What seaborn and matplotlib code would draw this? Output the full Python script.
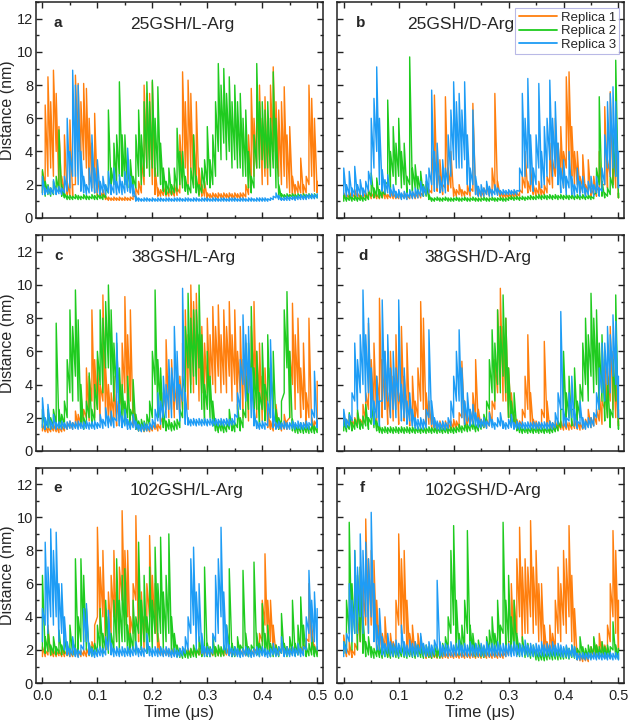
import numpy as np
import pandas as pd
import matplotlib
matplotlib.use("Agg")
import matplotlib.pyplot as plt
from matplotlib.ticker import MultipleLocator
import seaborn as sns

# time axis: 101 columns over 0-0.5 us; each trace is stored as the
# low / high envelope of the (very dense) signal inside each column
time = np.linspace(0, 0.5, 101)
replicas = ["Replica 1", "Replica 2", "Replica 3"]
colors = ["#ff7f0e", "#1fcb1f", "#1e9cf5"]

# ---- 25GSH/L-Arg ----
a_r1_lo = [1.5, 2.0, 2.5, 3.0, 2.5, 4.0, 1.6, 1.4, 1.5, 1.4,
           1.3, 1.2, 2.0, 4.0, 2.5, 3.5, 3.0, 2.0, 1.8, 1.5,
           1.3, 1.3, 1.2, 1.1, 1.05, 1.05, 1.05, 1.05, 1.05, 1.05,
           1.05, 1.05, 1.05, 1.1, 1.3, 1.4, 1.5, 2.0, 3.0, 3.5,
           2.0, 1.4, 1.3, 1.3, 1.35, 1.3, 1.3, 1.35, 1.3, 1.35,
           1.5, 2.5, 3.0, 2.0, 3.0, 2.0, 1.8, 1.4, 1.3, 1.3,
           1.15, 1.2, 1.15, 1.2, 1.15, 1.2, 1.15, 1.2, 1.15, 1.2,
           1.15, 1.2, 1.15, 1.2, 1.25, 1.4, 2.0, 2.5, 3.0, 3.5,
           2.0, 2.5, 2.0, 3.0, 4.0, 3.0, 2.5, 2.0, 2.5, 1.8,
           1.5, 1.4, 1.4, 1.5, 1.5, 1.4, 1.5, 2.0, 2.5, 1.6,
           1.5]
a_r1_hi = [2.8, 6.8, 8.5, 7.0, 8.9, 7.5, 5.5, 2.5, 5.0, 2.2,
           5.9, 2.0, 8.6, 8.1, 7.0, 8.1, 7.8, 6.0, 4.5, 6.3,
           2.5, 1.6, 1.7, 1.3, 1.25, 1.2, 1.25, 1.2, 1.25, 1.2,
           1.25, 1.2, 1.25, 1.3, 1.8, 2.2, 3.5, 8.0, 7.5, 7.5,
           8.2, 3.0, 1.8, 1.7, 1.9, 1.7, 1.8, 1.7, 2.0, 1.8,
           5.0, 8.8, 7.0, 8.3, 7.5, 5.0, 7.0, 3.0, 2.0, 2.2,
           1.5, 1.45, 1.5, 1.45, 1.5, 1.45, 1.5, 1.45, 1.5, 1.45,
           1.5, 1.45, 1.5, 1.5, 2.0, 5.0, 7.8, 6.0, 7.4, 8.0,
           6.0, 7.3, 5.0, 8.0, 9.1, 7.0, 6.5, 7.0, 7.9, 5.0,
           5.5, 2.5, 2.0, 2.2, 3.6, 2.0, 2.5, 8.0, 7.2, 6.0,
           2.2]
a_r2_lo = [1.5, 1.3, 1.4, 1.3, 1.4, 1.5, 1.6, 1.3, 1.2, 1.1,
           1.1, 1.1, 1.15, 1.1, 1.1, 1.15, 1.1, 1.1, 1.15, 1.1,
           1.1, 1.15, 1.1, 1.2, 1.5, 1.8, 2.0, 2.0, 2.5, 2.5,
           2.0, 1.8, 1.8, 1.5, 1.8, 2.5, 2.0, 2.5, 3.0, 2.5,
           3.0, 2.5, 2.5, 2.0, 1.6, 1.4, 1.5, 1.4, 1.5, 1.6,
           2.0, 1.8, 1.6, 1.4, 1.5, 1.8, 1.5, 1.3, 1.5, 1.8,
           2.0, 1.8, 2.0, 2.5, 4.0, 3.5, 4.5, 3.5, 4.0, 3.0,
           3.5, 3.0, 3.0, 2.5, 2.5, 1.8, 1.5, 1.8, 3.0, 3.0,
           3.5, 3.0, 3.0, 2.5, 3.0, 1.8, 1.3, 1.2, 1.2, 1.2,
           1.2, 1.25, 1.2, 1.2, 1.25, 1.2, 1.2, 1.25, 1.2, 1.2,
           1.2]
a_r2_hi = [2.9, 2.2, 2.0, 1.8, 2.2, 2.5, 5.3, 2.0, 1.5, 1.35,
           1.35, 1.3, 1.4, 1.35, 1.3, 1.4, 1.35, 1.3, 1.4, 1.35,
           1.4, 1.35, 1.4, 1.8, 6.5, 3.0, 4.5, 5.0, 8.2, 5.0,
           5.0, 3.0, 3.5, 2.5, 5.0, 6.5, 5.0, 7.0, 8.2, 7.0,
           8.3, 6.0, 7.9, 4.5, 3.0, 2.2, 3.0, 2.0, 3.0, 5.4,
           4.0, 4.0, 2.5, 2.0, 3.0, 5.0, 2.5, 2.0, 3.0, 3.5,
           5.5, 3.5, 5.0, 7.0, 9.3, 8.0, 9.0, 7.5, 8.5, 7.0,
           8.0, 7.0, 7.5, 6.0, 6.5, 4.0, 2.5, 5.0, 9.3, 7.0,
           7.0, 6.5, 7.0, 6.0, 8.8, 6.0, 2.0, 1.45, 1.4, 1.45,
           1.4, 1.45, 1.4, 1.45, 1.4, 1.45, 1.4, 1.45, 1.4, 1.45,
           1.4]
a_r3_lo = [1.4, 1.4, 1.45, 1.4, 1.45, 1.4, 1.45, 1.4, 1.5, 1.6,
           1.8, 2.5, 2.5, 2.0, 1.6, 1.5, 1.4, 1.5, 1.6, 1.5,
           1.5, 1.4, 1.5, 1.4, 1.5, 1.4, 1.5, 1.4, 1.5, 1.4,
           1.5, 1.6, 1.5, 1.3, 1.0, 1.0, 1.0, 1.0, 1.0, 1.0,
           1.0, 1.0, 1.0, 1.0, 1.0, 1.0, 1.0, 1.0, 1.0, 1.0,
           1.0, 1.0, 1.0, 1.0, 1.0, 1.0, 1.0, 1.0, 1.0, 1.0,
           1.0, 1.0, 1.0, 1.0, 1.0, 1.0, 1.0, 1.0, 1.0, 1.0,
           1.0, 1.0, 1.0, 1.0, 1.0, 1.0, 1.0, 1.0, 1.0, 1.0,
           1.0, 1.0, 1.0, 1.05, 1.1, 1.2, 1.1, 1.05, 1.05, 1.05,
           1.05, 1.1, 1.05, 1.1, 1.1, 1.1, 1.1, 1.15, 1.15, 1.15,
           1.2]
a_r3_hi = [2.5, 1.8, 1.9, 1.8, 2.3, 1.8, 1.9, 1.8, 2.5, 6.0,
           4.0, 8.9, 8.0, 8.0, 4.0, 2.5, 2.0, 3.0, 5.0, 3.0,
           3.5, 2.2, 2.5, 2.0, 2.8, 2.0, 3.0, 2.2, 2.6, 2.2,
           2.8, 4.2, 2.5, 2.0, 1.3, 1.2, 1.15, 1.2, 1.2, 1.15,
           1.2, 1.15, 1.2, 1.2, 1.15, 1.2, 1.2, 1.15, 1.2, 1.2,
           1.2, 1.15, 1.2, 1.2, 1.15, 1.2, 1.2, 1.15, 1.2, 1.2,
           1.2, 1.15, 1.2, 1.2, 1.15, 1.2, 1.2, 1.15, 1.2, 1.2,
           1.2, 1.15, 1.2, 1.2, 1.15, 1.2, 1.2, 1.15, 1.2, 1.2,
           1.2, 1.2, 1.15, 1.2, 1.3, 1.5, 1.35, 1.2, 1.25, 1.3,
           1.25, 1.3, 1.3, 1.35, 1.4, 1.35, 1.4, 1.4, 1.45, 1.4,
           1.45]

# ---- 25GSH/D-Arg ----
b_r1_lo = [1.15, 1.15, 1.2, 1.15, 1.2, 1.15, 1.15, 1.2, 1.15, 1.2,
           1.15, 1.2, 1.15, 1.15, 1.2, 1.15, 1.15, 1.2, 1.15, 1.15,
           1.15, 1.15, 1.2, 1.15, 1.15, 1.2, 1.15, 1.2, 1.2, 1.3,
           1.4, 1.3, 1.5, 2.0, 1.6, 1.8, 1.4, 1.8, 1.6, 1.8,
           1.3, 1.3, 1.4, 1.3, 1.3, 1.4, 1.3, 1.6, 1.4, 1.3,
           1.25, 1.3, 1.4, 1.3, 1.4, 1.6, 1.4, 1.25, 1.2, 1.2,
           1.2, 1.2, 1.25, 1.2, 1.3, 1.5, 1.8, 1.5, 1.6, 1.4,
           1.3, 1.4, 1.3, 1.4, 1.5, 2.0, 1.8, 2.5, 2.0, 2.5,
           1.8, 3.0, 3.5, 2.5, 2.0, 2.0, 1.5, 1.8, 1.4, 1.6,
           1.3, 1.4, 1.3, 1.6, 1.4, 2.0, 1.8, 2.5, 2.0, 1.8,
           1.2]
b_r1_hi = [1.5, 1.4, 1.6, 1.5, 1.7, 1.5, 1.4, 1.6, 1.5, 1.7,
           1.5, 1.6, 1.4, 1.5, 1.7, 1.5, 1.4, 1.6, 1.5, 1.4,
           1.5, 1.4, 1.5, 1.4, 1.5, 1.6, 1.5, 1.7, 1.5, 1.8,
           2.0, 1.7, 4.0, 7.4, 3.0, 3.5, 2.0, 7.3, 3.0, 4.0,
           1.8, 1.7, 2.0, 1.7, 1.6, 2.0, 1.8, 6.9, 2.2, 1.7,
           1.6, 1.8, 2.0, 1.7, 3.0, 7.5, 2.2, 1.6, 1.5, 1.5,
           1.5, 1.5, 1.6, 1.5, 1.7, 2.5, 4.0, 2.2, 3.0, 2.0,
           1.8, 2.2, 1.7, 2.0, 2.5, 4.5, 3.5, 6.0, 4.5, 5.5,
           4.0, 8.5, 8.8, 5.5, 4.0, 4.0, 2.5, 3.8, 2.0, 3.5,
           1.8, 2.5, 1.8, 4.0, 2.0, 6.7, 3.5, 7.6, 4.5, 5.0,
           1.5]
b_r2_lo = [1.0, 1.0, 1.05, 1.0, 1.05, 1.0, 1.05, 1.0, 1.05, 1.1,
           1.3, 1.2, 1.3, 1.2, 1.2, 1.4, 2.0, 1.8, 2.5, 2.0,
           2.5, 1.8, 2.0, 1.5, 2.0, 1.6, 1.8, 1.5, 1.6, 1.3,
           1.3, 1.1, 1.0, 1.0, 1.05, 1.0, 1.0, 1.05, 1.0, 1.0,
           1.0, 1.05, 1.0, 1.0, 1.05, 1.0, 1.0, 1.05, 1.0, 1.0,
           1.0, 1.05, 1.0, 1.0, 1.05, 1.0, 1.0, 1.05, 1.0, 1.0,
           1.05, 1.1, 1.05, 1.1, 1.05, 1.1, 1.05, 1.1, 1.1, 1.1,
           1.1, 1.15, 1.1, 1.15, 1.1, 1.15, 1.1, 1.15, 1.1, 1.15,
           1.1, 1.15, 1.1, 1.15, 1.1, 1.15, 1.1, 1.15, 1.1, 1.15,
           1.1, 1.15, 1.5, 2.0, 1.3, 1.2, 1.3, 1.4, 1.8, 2.5,
           1.2]
b_r2_hi = [1.4, 1.25, 1.4, 1.25, 1.35, 1.25, 1.35, 1.25, 1.4, 1.6,
           2.7, 1.8, 2.4, 1.7, 1.6, 2.2, 7.1, 4.0, 5.5, 4.5,
           6.0, 4.0, 4.5, 2.5, 9.7, 3.0, 3.2, 2.5, 2.8, 2.0,
           2.2, 1.4, 1.2, 1.2, 1.25, 1.2, 1.2, 1.25, 1.2, 1.2,
           1.2, 1.25, 1.2, 1.2, 1.25, 1.2, 1.2, 1.25, 1.2, 1.2,
           1.2, 1.25, 1.2, 1.2, 1.25, 1.2, 1.2, 1.25, 1.2, 1.2,
           1.25, 1.3, 1.25, 1.3, 1.25, 1.3, 1.25, 1.3, 1.35, 1.3,
           1.35, 1.4, 1.35, 1.4, 1.35, 1.4, 1.35, 1.4, 1.35, 1.4,
           1.35, 1.4, 1.35, 1.4, 1.35, 1.4, 1.35, 1.4, 1.35, 1.4,
           1.3, 1.4, 3.0, 7.3, 2.2, 1.5, 1.8, 2.5, 5.0, 9.5,
           1.5]
b_r3_lo = [1.4, 1.3, 1.4, 1.3, 1.4, 1.3, 1.4, 1.3, 1.4, 1.6,
           2.0, 3.0, 4.0, 2.0, 1.6, 1.5, 1.5, 1.3, 1.3, 1.2,
           1.2, 1.1, 1.15, 1.1, 1.2, 1.15, 1.2, 1.2, 1.3, 1.3,
           1.4, 1.5, 2.0, 1.6, 1.8, 1.5, 1.6, 1.5, 2.0, 2.5,
           3.5, 3.0, 3.0, 3.0, 3.5, 2.0, 1.6, 2.0, 1.4, 1.3,
           1.3, 1.3, 1.4, 1.3, 1.3, 1.4, 1.35, 1.4, 1.4, 1.4,
           1.4, 1.4, 1.4, 1.4, 1.6, 2.5, 2.5, 3.0, 2.0, 1.6,
           2.0, 3.0, 1.8, 2.0, 2.5, 3.5, 2.5, 3.0, 2.0, 1.5,
           1.8, 1.4, 1.8, 1.4, 1.3, 1.5, 1.3, 1.5, 1.3, 1.4,
           1.5, 1.3, 1.5, 1.3, 1.6, 2.0, 3.0, 2.5, 3.0, 2.5,
           1.8]
b_r3_hi = [3.0, 2.0, 2.8, 1.8, 3.1, 2.0, 2.3, 1.8, 2.2, 2.8,
           6.0, 7.2, 9.1, 6.0, 2.9, 2.3, 2.6, 1.8, 2.0, 1.6,
           1.7, 1.5, 1.6, 1.5, 1.7, 1.6, 1.8, 1.7, 2.2, 1.9,
           2.6, 3.0, 7.7, 4.0, 4.5, 2.5, 3.5, 3.0, 5.0, 6.5,
           8.2, 7.0, 7.5, 6.5, 8.2, 5.0, 3.0, 6.5, 2.5, 1.9,
           2.0, 1.8, 2.2, 1.9, 1.7, 2.0, 1.8, 1.65, 1.7, 1.65,
           1.7, 1.65, 1.7, 1.65, 3.0, 7.5, 6.0, 8.4, 5.0, 3.0,
           5.0, 8.1, 4.0, 5.5, 6.0, 8.3, 6.0, 7.0, 4.5, 3.0,
           3.5, 2.5, 4.0, 2.5, 2.0, 3.0, 2.2, 2.5, 1.8, 2.2,
           2.5, 2.0, 2.5, 1.8, 3.0, 5.0, 7.0, 7.5, 7.9, 7.0,
           4.0]

# ---- 38GSH/L-Arg ----
c_r1_lo = [1.2, 1.15, 1.1, 1.15, 1.2, 1.15, 1.1, 1.15, 1.2, 1.3,
           1.4, 1.3, 1.5, 1.4, 1.6, 1.5, 2.0, 1.8, 3.0, 2.0,
           2.5, 1.8, 3.0, 2.0, 2.0, 1.6, 2.0, 1.5, 1.8, 2.5,
           3.5, 2.5, 3.0, 1.5, 1.3, 1.2, 1.2, 1.15, 1.2, 1.15,
           1.2, 1.3, 1.2, 1.3, 1.6, 2.5, 2.0, 2.5, 2.0, 2.5,
           2.0, 2.5, 3.5, 2.5, 4.0, 3.5, 4.5, 3.0, 3.5, 2.5,
           3.5, 3.0, 4.0, 3.5, 4.5, 3.5, 4.0, 3.5, 4.5, 3.0,
           4.0, 2.5, 3.5, 2.0, 3.0, 1.8, 3.0, 4.0, 2.0, 3.0,
           1.8, 2.0, 1.4, 1.3, 1.2, 1.4, 1.3, 1.2, 1.3, 1.3,
           2.0, 4.0, 2.5, 3.5, 2.0, 2.5, 1.5, 2.0, 1.3, 1.2,
           1.5]
c_r1_hi = [1.6, 1.5, 1.45, 1.5, 1.6, 1.5, 1.45, 1.5, 1.6, 1.7,
           1.8, 1.7, 2.4, 2.2, 3.5, 2.5, 5.0, 4.5, 8.5, 5.5,
           5.5, 4.0, 9.4, 5.0, 4.0, 3.5, 4.5, 3.0, 3.5, 6.5,
           9.3, 7.0, 8.5, 3.0, 1.9, 1.7, 1.6, 1.5, 1.6, 1.5,
           1.6, 1.7, 1.6, 2.0, 3.5, 6.7, 4.5, 5.5, 4.0, 5.0,
           4.5, 6.5, 8.5, 7.0, 10.0, 9.0, 9.5, 7.0, 7.5, 6.5,
           8.0, 7.0, 8.7, 7.5, 8.8, 7.0, 8.5, 7.5, 9.0, 7.0,
           8.5, 6.0, 7.5, 5.5, 6.5, 5.0, 7.5, 9.0, 6.0, 6.5,
           4.5, 5.0, 2.5, 1.8, 1.7, 2.8, 1.8, 1.7, 2.2, 1.8,
           6.0, 8.9, 7.0, 8.0, 5.0, 6.5, 3.5, 8.0, 2.0, 1.8,
           4.2]
c_r2_lo = [1.4, 1.3, 1.4, 1.3, 1.4, 1.6, 1.4, 1.4, 1.6, 2.0,
           3.5, 3.0, 4.5, 3.0, 1.6, 1.3, 1.5, 2.0, 1.5, 1.8,
           2.5, 4.0, 3.5, 5.0, 5.0, 4.0, 3.0, 3.5, 2.5, 1.8,
           1.6, 2.0, 1.4, 2.0, 1.3, 1.2, 1.3, 1.2, 1.3, 1.5,
           2.0, 4.0, 2.0, 2.5, 1.4, 1.2, 1.3, 1.2, 1.25, 1.3,
           1.4, 2.0, 3.5, 5.0, 3.5, 4.5, 4.0, 5.0, 2.5, 1.8,
           2.5, 2.0, 1.5, 1.2, 1.1, 1.2, 1.1, 1.15, 1.3, 1.2,
           1.15, 1.4, 1.2, 1.4, 2.0, 2.5, 3.5, 2.0, 2.5, 1.6,
           2.5, 1.8, 3.0, 2.0, 2.5, 1.4, 1.3, 1.5, 3.5, 5.0,
           2.0, 1.2, 1.1, 1.05, 1.1, 1.05, 1.1, 1.05, 1.1, 1.05,
           1.1]
c_r2_hi = [2.5, 1.8, 2.5, 2.0, 2.5, 7.7, 2.5, 2.2, 3.0, 5.5,
           8.5, 7.5, 9.7, 7.9, 4.0, 2.0, 3.0, 4.7, 2.5, 4.0,
           6.0, 8.5, 8.0, 9.0, 10.0, 8.5, 6.5, 6.5, 5.0, 4.0,
           3.0, 4.5, 2.5, 4.3, 2.2, 1.8, 1.9, 1.8, 2.2, 3.0,
           6.0, 9.7, 5.5, 5.0, 2.5, 1.8, 1.9, 1.7, 1.8, 1.9,
           2.5, 4.5, 7.5, 9.5, 8.0, 8.5, 8.5, 10.0, 7.0, 4.0,
           6.0, 4.5, 3.0, 1.8, 1.7, 1.8, 1.6, 1.7, 2.5, 1.8,
           1.7, 2.8, 2.0, 2.5, 4.5, 6.5, 8.7, 5.0, 6.0, 3.5,
           6.5, 4.0, 7.0, 5.0, 6.0, 2.5, 2.0, 3.0, 8.5, 9.6,
           6.0, 1.9, 1.6, 1.5, 1.7, 1.5, 1.6, 1.5, 1.7, 1.5,
           1.6]
c_r3_lo = [1.4, 1.3, 1.4, 1.3, 1.35, 1.3, 1.35, 1.3, 1.35, 1.3,
           1.35, 1.3, 1.35, 1.3, 1.35, 1.3, 1.35, 1.3, 1.35, 1.3,
           1.35, 1.4, 1.35, 1.5, 1.4, 1.5, 1.4, 1.8, 1.5, 1.4,
           1.5, 1.3, 1.3, 1.4, 1.3, 1.2, 1.15, 1.2, 1.2, 1.25,
           1.3, 1.4, 1.8, 1.6, 2.0, 2.0, 2.5, 2.0, 3.0, 2.5,
           1.8, 3.0, 1.6, 1.55, 1.5, 1.55, 1.5, 1.55, 1.5, 1.55,
           1.5, 1.55, 1.5, 1.55, 1.5, 1.55, 1.5, 1.55, 1.5, 1.55,
           1.6, 2.0, 2.5, 4.0, 3.0, 3.5, 2.0, 1.5, 1.35, 1.3,
           1.35, 1.3, 1.5, 2.0, 1.4, 1.3, 1.35, 1.3, 1.35, 1.3,
           1.3, 1.35, 1.3, 1.35, 1.3, 1.3, 1.35, 1.3, 1.5, 2.0,
           1.4]
c_r3_hi = [3.2, 2.0, 2.8, 1.8, 2.2, 1.7, 1.75, 1.8, 1.7, 1.75,
           1.8, 1.7, 1.75, 1.8, 1.7, 1.75, 1.8, 1.7, 1.75, 1.8,
           1.7, 2.2, 1.9, 2.6, 2.1, 2.4, 2.0, 7.1, 2.8, 2.1,
           2.5, 1.9, 1.8, 2.2, 1.8, 1.6, 1.6, 1.7, 1.6, 1.7,
           1.9, 2.5, 3.5, 3.0, 4.5, 4.0, 5.5, 5.0, 7.5, 6.0,
           4.0, 9.8, 3.5, 2.0, 1.9, 1.95, 1.9, 1.95, 1.9, 1.95,
           1.9, 1.95, 1.9, 1.95, 1.9, 1.95, 1.9, 1.95, 1.9, 1.95,
           2.2, 3.5, 5.5, 8.2, 7.0, 7.5, 5.0, 2.5, 1.8, 1.7,
           1.8, 1.7, 3.0, 6.7, 2.5, 1.7, 1.8, 1.7, 1.8, 1.7,
           1.7, 1.8, 1.7, 1.8, 1.7, 1.7, 1.8, 1.7, 2.5, 4.8,
           1.8]

# ---- 38GSH/D-Arg ----
d_r1_lo = [1.5, 1.4, 1.5, 1.4, 1.5, 1.6, 1.4, 1.6, 1.8, 2.5,
           2.0, 2.5, 1.8, 3.0, 2.0, 2.5, 1.6, 2.0, 1.8, 2.5,
           1.6, 2.5, 1.8, 2.0, 1.5, 1.8, 1.5, 2.0, 3.0, 2.5,
           1.6, 1.6, 1.4, 1.3, 1.25, 1.3, 1.25, 1.3, 1.25, 1.3,
           1.3, 1.3, 1.4, 2.0, 1.5, 1.4, 1.5, 1.6, 2.0, 1.5,
           1.4, 1.4, 1.4, 1.5, 1.6, 2.5, 3.5, 4.0, 3.0, 3.0,
           2.0, 1.8, 1.4, 1.3, 1.3, 1.5, 2.0, 2.5, 1.6, 1.3,
           1.3, 1.25, 1.4, 2.0, 1.5, 1.3, 1.25, 1.3, 1.25, 1.3,
           1.25, 1.3, 1.25, 1.3, 1.35, 1.3, 1.25, 1.3, 1.35, 1.5,
           1.4, 1.5, 1.6, 1.8, 1.6, 2.5, 2.0, 3.0, 2.5, 2.0,
           1.5]
d_r1_hi = [2.2, 1.9, 2.1, 1.9, 2.0, 2.3, 1.9, 2.8, 3.5, 7.7,
           5.5, 6.5, 4.5, 9.2, 5.5, 6.0, 3.5, 6.0, 4.5, 7.0,
           3.5, 7.5, 4.5, 6.5, 3.0, 4.5, 3.0, 5.0, 9.0, 8.0,
           3.5, 3.0, 2.2, 1.8, 1.7, 1.8, 1.7, 1.8, 1.7, 1.8,
           1.9, 1.8, 2.3, 5.4, 3.0, 2.2, 2.5, 3.5, 5.5, 2.5,
           1.9, 2.0, 1.9, 2.4, 3.0, 5.5, 8.5, 9.8, 7.5, 8.0,
           5.0, 3.5, 2.2, 1.9, 1.8, 2.5, 4.5, 7.0, 3.5, 1.9,
           1.8, 1.7, 2.5, 6.6, 3.0, 1.8, 1.7, 1.8, 1.7, 1.8,
           1.7, 1.8, 1.7, 1.8, 1.9, 1.8, 1.7, 1.8, 1.9, 2.5,
           2.0, 2.2, 2.5, 3.5, 3.0, 5.5, 5.0, 7.5, 6.0, 4.5,
           2.5]
d_r2_lo = [1.2, 1.15, 1.3, 1.2, 1.3, 1.4, 1.3, 1.35, 1.5, 1.3,
           1.6, 1.4, 1.2, 1.1, 1.05, 1.1, 1.05, 1.1, 1.05, 1.1,
           1.05, 1.1, 1.05, 1.1, 1.05, 1.1, 1.05, 1.1, 1.05, 1.1,
           1.05, 1.1, 1.05, 1.1, 1.05, 1.1, 1.05, 1.1, 1.05, 1.1,
           1.05, 1.1, 1.15, 1.1, 1.2, 1.15, 1.2, 1.3, 1.15, 1.2,
           1.3, 1.4, 1.6, 2.5, 3.5, 3.0, 4.0, 3.5, 4.5, 3.5,
           2.0, 1.6, 1.6, 1.2, 1.1, 1.05, 1.1, 1.05, 1.1, 1.05,
           1.1, 1.05, 1.1, 1.05, 1.1, 1.05, 1.1, 1.15, 1.2, 1.4,
           2.5, 1.8, 2.0, 1.5, 2.5, 1.6, 2.0, 3.0, 4.0, 3.0,
           4.5, 3.5, 4.0, 2.5, 3.0, 1.8, 2.0, 1.4, 2.0, 3.0,
           1.3]
d_r2_hi = [1.8, 1.6, 2.3, 1.7, 1.9, 2.5, 1.8, 2.1, 2.8, 2.0,
           3.0, 2.4, 1.8, 1.5, 1.4, 1.45, 1.4, 1.45, 1.4, 1.45,
           1.4, 1.45, 1.4, 1.45, 1.4, 1.45, 1.4, 1.45, 1.4, 1.45,
           1.4, 1.45, 1.4, 1.45, 1.4, 1.45, 1.4, 1.45, 1.4, 1.45,
           1.4, 1.45, 1.6, 1.5, 1.7, 1.6, 1.7, 1.8, 1.6, 1.7,
           1.8, 2.2, 3.0, 5.5, 7.3, 6.5, 8.5, 7.5, 9.4, 8.0,
           5.0, 3.0, 3.5, 1.8, 1.5, 1.4, 1.45, 1.4, 1.45, 1.4,
           1.45, 1.4, 1.45, 1.4, 1.45, 1.4, 1.45, 1.6, 1.8, 2.5,
           6.0, 3.5, 4.5, 2.5, 5.0, 3.0, 4.0, 6.5, 8.0, 7.0,
           9.5, 8.0, 8.5, 6.5, 7.0, 4.0, 4.5, 2.5, 5.5, 9.4,
           1.8]
d_r3_lo = [1.5, 1.4, 1.5, 1.8, 3.0, 2.5, 3.5, 4.0, 3.0, 3.5,
           2.0, 1.6, 2.0, 1.5, 3.0, 2.5, 3.0, 2.0, 2.5, 2.0,
           3.0, 1.8, 2.0, 1.6, 1.8, 1.5, 1.35, 1.3, 1.35, 1.3,
           1.4, 2.0, 1.6, 1.4, 1.3, 1.25, 1.3, 1.25, 1.35, 1.5,
           2.0, 3.0, 3.0, 2.0, 1.6, 1.8, 1.5, 1.6, 1.5, 1.4,
           1.4, 1.45, 1.35, 1.5, 1.4, 1.3, 1.45, 1.5, 1.35, 1.3,
           1.35, 1.4, 1.3, 1.35, 1.3, 1.35, 1.3, 1.35, 1.3, 1.35,
           1.3, 1.35, 1.3, 1.35, 1.3, 1.35, 1.3, 1.4, 1.6, 2.5,
           1.5, 1.4, 1.8, 2.0, 1.5, 1.35, 1.6, 1.35, 1.3, 1.4,
           1.4, 1.5, 2.0, 2.5, 3.5, 3.0, 4.0, 3.5, 4.5, 4.0,
           2.0]
d_r3_hi = [2.5, 1.9, 2.2, 3.5, 6.5, 5.5, 7.0, 9.7, 7.0, 8.0,
           5.0, 3.0, 4.5, 3.0, 9.1, 6.0, 7.0, 5.0, 6.0, 5.0,
           9.1, 4.0, 5.0, 3.0, 3.5, 2.5, 2.0, 1.9, 2.0, 1.9,
           2.5, 7.3, 3.0, 2.0, 1.8, 1.7, 1.8, 1.7, 2.0, 3.0,
           4.5, 6.0, 7.3, 5.0, 3.0, 3.5, 2.5, 2.8, 2.3, 2.0,
           1.9, 2.0, 1.8, 2.3, 1.9, 1.7, 2.0, 2.3, 1.8, 1.7,
           1.9, 2.2, 1.7, 1.8, 1.7, 1.75, 1.7, 1.75, 1.7, 1.75,
           1.7, 1.75, 1.7, 1.75, 1.7, 1.8, 1.7, 2.3, 3.5, 8.4,
           2.5, 2.0, 3.5, 4.5, 2.5, 1.8, 3.0, 2.0, 1.8, 2.0,
           2.0, 2.3, 3.5, 5.0, 6.5, 6.5, 7.5, 7.0, 8.2, 7.8,
           4.5]

# ---- 102GSH/L-Arg ----
e_r1_lo = [1.6, 1.6, 1.7, 1.65, 1.6, 1.6, 1.65, 1.6, 1.6, 1.65,
           1.6, 1.6, 1.65, 1.6, 1.6, 1.65, 1.6, 1.65, 1.8, 2.0,
           4.0, 3.0, 4.0, 2.0, 2.5, 3.0, 4.0, 2.5, 3.0, 5.0,
           3.5, 4.0, 2.0, 3.0, 5.0, 2.5, 3.0, 2.0, 3.0, 4.0,
           2.5, 3.0, 1.8, 1.7, 1.65, 1.7, 1.65, 1.7, 1.65, 1.7,
           1.65, 1.7, 1.65, 1.7, 1.65, 1.7, 1.65, 1.7, 1.65, 1.7,
           1.65, 1.7, 1.65, 1.7, 1.65, 1.7, 1.65, 1.7, 1.65, 1.7,
           1.65, 1.7, 1.65, 1.7, 1.65, 1.7, 1.65, 1.7, 1.9, 2.0,
           2.5, 3.5, 2.0, 2.5, 2.0, 1.7, 1.7, 1.8, 1.75, 1.8,
           1.75, 1.8, 1.75, 1.8, 1.8, 1.9, 1.9, 2.5, 2.0, 1.8,
           1.75]
e_r1_hi = [2.2, 2.0, 3.5, 2.1, 2.0, 1.95, 2.0, 2.1, 1.95, 2.0,
           1.95, 2.0, 2.1, 2.0, 1.95, 2.0, 2.1, 2.0, 2.5, 3.5,
           9.4, 7.0, 8.0, 4.5, 5.5, 6.5, 8.0, 5.5, 7.0, 10.4,
           8.0, 8.0, 4.0, 6.0, 10.1, 5.0, 5.5, 4.0, 6.0, 8.9,
           6.5, 6.0, 3.0, 2.1, 2.0, 2.1, 2.0, 2.1, 2.0, 2.1,
           2.0, 2.1, 2.0, 2.1, 2.0, 2.1, 2.0, 2.1, 2.0, 2.1,
           2.0, 2.1, 2.0, 2.1, 2.0, 2.1, 2.0, 2.1, 2.0, 2.1,
           2.0, 2.1, 2.0, 2.1, 2.0, 2.1, 2.0, 2.1, 2.7, 3.0,
           5.0, 7.8, 5.0, 5.0, 3.5, 2.3, 2.1, 2.4, 2.1, 2.2,
           2.1, 2.2, 2.1, 2.2, 2.2, 2.4, 2.7, 6.0, 3.5, 2.3,
           2.1]
e_r2_lo = [2.0, 1.8, 1.9, 1.7, 1.8, 1.7, 1.8, 1.7, 1.8, 1.7,
           1.8, 1.7, 2.0, 1.8, 2.5, 2.5, 2.0, 1.7, 1.65, 1.7,
           1.8, 2.0, 1.8, 2.0, 1.8, 1.8, 2.0, 2.5, 2.0, 2.5,
           2.5, 1.8, 1.8, 2.0, 1.8, 3.0, 2.0, 2.5, 1.8, 2.5,
           2.0, 3.0, 2.5, 3.0, 2.0, 2.5, 3.0, 1.8, 1.7, 1.6,
           1.55, 1.5, 1.55, 1.5, 1.55, 1.6, 1.55, 1.7, 1.6, 1.8,
           1.6, 1.6, 1.7, 1.6, 1.65, 1.6, 1.65, 1.8, 2.0, 1.6,
           1.6, 1.7, 1.6, 2.0, 1.7, 1.6, 1.65, 2.0, 1.7, 1.6,
           1.8, 1.7, 1.8, 1.6, 1.6, 1.65, 1.6, 1.8, 1.65, 1.6,
           1.7, 1.8, 1.65, 1.7, 1.8, 1.7, 1.6, 1.65, 1.7, 1.6,
           1.6]
e_r2_hi = [6.5, 2.8, 3.2, 2.3, 2.8, 2.2, 3.2, 2.3, 2.8, 2.3,
           3.5, 2.5, 7.5, 4.0, 7.5, 6.5, 4.5, 2.4, 2.2, 2.4,
           3.5, 4.5, 3.0, 5.0, 4.0, 3.0, 5.0, 7.5, 5.0, 6.5,
           6.9, 3.5, 3.0, 5.0, 4.0, 8.5, 5.0, 6.5, 4.0, 7.0,
           5.0, 8.2, 6.0, 8.8, 5.5, 6.5, 9.0, 4.0, 3.0, 2.3,
           2.1, 2.0, 2.1, 2.0, 2.1, 2.3, 2.1, 2.8, 2.2, 7.0,
           2.4, 2.2, 2.8, 2.2, 2.3, 2.2, 2.3, 3.5, 6.9, 2.4,
           2.2, 2.8, 2.3, 6.8, 3.0, 2.2, 2.3, 7.3, 3.0, 2.4,
           4.8, 3.0, 3.5, 2.4, 2.2, 2.3, 2.2, 4.2, 2.4, 2.2,
           2.8, 5.0, 2.4, 3.5, 5.2, 3.5, 2.2, 2.4, 2.8, 2.2,
           2.2]
e_r3_lo = [2.5, 3.5, 3.0, 4.0, 3.5, 4.0, 2.5, 3.0, 2.0, 1.7,
           1.6, 1.7, 1.6, 1.55, 1.7, 2.0, 2.5, 1.7, 1.6, 1.55,
           1.6, 1.65, 1.6, 1.7, 2.0, 1.7, 1.6, 1.65, 1.6, 1.65,
           1.6, 1.65, 1.6, 1.65, 1.7, 1.6, 1.65, 1.6, 1.8, 1.65,
           1.6, 1.65, 1.6, 1.65, 1.6, 1.65, 1.6, 1.55, 1.6, 1.55,
           1.6, 1.65, 1.8, 2.0, 3.0, 3.5, 2.0, 2.5, 1.8, 1.6,
           1.65, 1.6, 1.8, 2.5, 3.0, 4.0, 2.0, 1.8, 1.65, 1.6,
           1.65, 1.6, 1.55, 1.6, 1.65, 1.6, 1.55, 1.6, 1.65, 1.6,
           1.65, 1.6, 1.55, 1.6, 1.7, 1.6, 1.65, 1.8, 1.6, 1.65,
           1.6, 1.65, 1.6, 1.7, 1.6, 1.65, 2.0, 3.0, 2.5, 2.5,
           2.0]
e_r3_hi = [4.5, 8.5, 7.0, 9.3, 8.0, 9.1, 6.0, 6.0, 4.0, 2.5,
           2.1, 2.8, 2.1, 2.0, 2.3, 4.5, 4.8, 2.4, 2.1, 2.0,
           2.1, 2.2, 2.1, 2.8, 4.4, 2.4, 2.1, 2.2, 2.1, 2.2,
           2.1, 2.2, 2.1, 2.2, 2.5, 2.1, 2.2, 2.1, 3.0, 2.2,
           2.1, 2.2, 2.1, 2.2, 2.1, 2.2, 2.1, 2.0, 2.1, 2.0,
           2.1, 2.2, 2.8, 4.0, 7.5, 8.2, 5.5, 6.0, 3.0, 2.2,
           2.2, 2.1, 3.0, 6.5, 7.5, 9.4, 5.5, 3.5, 2.3, 2.1,
           2.2, 2.1, 2.0, 2.1, 2.2, 2.1, 2.0, 2.1, 2.2, 2.1,
           2.2, 2.1, 2.0, 2.1, 2.4, 2.1, 2.2, 2.8, 2.1, 2.2,
           2.1, 2.2, 2.1, 2.4, 2.1, 2.2, 4.0, 6.8, 5.0, 5.5,
           4.5]

# ---- 102GSH/D-Arg ----
f_r1_lo = [1.8, 1.6, 1.7, 1.55, 1.7, 2.0, 2.5, 2.5, 3.5, 3.0,
           3.5, 3.0, 2.0, 1.8, 1.7, 2.0, 1.6, 1.8, 1.6, 2.0,
           3.5, 3.0, 3.0, 2.0, 1.7, 2.0, 1.6, 1.8, 1.7, 1.6,
           1.5, 1.55, 1.5, 1.55, 1.5, 1.55, 1.5, 1.55, 1.5, 1.55,
           1.5, 1.55, 1.5, 1.55, 1.5, 1.55, 1.5, 1.55, 1.5, 1.55,
           1.5, 1.55, 1.5, 1.55, 1.5, 1.55, 1.5, 1.55, 1.5, 1.6,
           1.7, 2.5, 2.0, 3.0, 4.0, 2.5, 3.0, 3.0, 4.0, 3.0,
           3.5, 2.5, 2.5, 1.8, 1.6, 1.8, 1.7, 2.0, 3.0, 2.5,
           3.5, 3.0, 4.0, 2.5, 2.0, 1.4, 1.35, 1.3, 1.35, 1.3,
           1.5, 1.6, 1.5, 1.7, 1.6, 1.5, 1.8, 2.5, 4.0, 3.0,
           2.0]
f_r1_hi = [2.9, 2.1, 2.5, 2.0, 2.4, 4.0, 7.0, 6.0, 9.9, 7.5,
           8.0, 7.4, 5.0, 3.5, 3.0, 4.0, 2.5, 3.0, 2.5, 5.0,
           9.0, 7.5, 8.0, 5.0, 3.0, 3.5, 2.5, 3.0, 2.8, 2.3,
           1.9, 1.85, 1.9, 1.85, 1.9, 1.85, 1.9, 1.85, 1.9, 1.85,
           1.9, 1.85, 1.9, 1.85, 1.9, 1.85, 1.9, 1.85, 1.9, 1.85,
           1.9, 1.85, 1.9, 1.85, 1.9, 1.85, 1.9, 1.85, 1.9, 2.0,
           2.5, 6.0, 5.0, 7.5, 9.4, 7.0, 7.5, 7.0, 9.8, 7.0,
           8.0, 6.0, 6.0, 3.5, 2.5, 3.5, 3.0, 5.0, 7.0, 6.0,
           8.0, 7.5, 9.5, 6.5, 4.5, 1.9, 1.8, 1.7, 1.8, 1.7,
           2.2, 2.7, 2.3, 3.0, 2.5, 2.3, 3.5, 6.0, 9.2, 8.0,
           5.0]
f_r2_lo = [1.8, 2.0, 3.0, 2.0, 3.0, 2.0, 2.5, 1.8, 1.6, 1.7,
           1.55, 1.5, 1.6, 1.55, 1.5, 1.6, 1.55, 1.5, 1.6, 1.55,
           1.5, 1.6, 1.55, 1.5, 1.6, 1.55, 1.5, 1.6, 1.55, 1.5,
           1.6, 1.55, 1.5, 1.6, 1.55, 1.5, 1.6, 1.8, 2.0, 3.0,
           3.5, 2.0, 1.7, 1.8, 2.0, 3.0, 1.8, 1.7, 1.6, 1.7,
           1.6, 1.55, 1.7, 1.8, 2.0, 1.7, 2.0, 1.8, 3.0, 2.0,
           2.5, 1.8, 2.0, 1.7, 1.6, 1.7, 1.55, 1.6, 1.5, 1.6,
           1.4, 1.35, 1.4, 1.35, 1.4, 1.45, 1.4, 1.45, 1.4, 1.45,
           1.45, 1.5, 1.45, 1.55, 1.5, 1.45, 1.7, 1.5, 1.45, 1.55,
           1.5, 1.7, 1.55, 1.5, 1.6, 1.5, 1.55, 1.5, 2.0, 1.55,
           1.45]
f_r2_hi = [2.5, 5.0, 9.7, 6.0, 8.0, 6.5, 7.0, 4.0, 2.5, 2.8,
           2.2, 2.1, 2.3, 2.2, 2.1, 2.3, 2.2, 2.1, 2.3, 2.2,
           2.1, 2.3, 2.2, 2.1, 2.3, 2.2, 2.1, 2.3, 2.2, 2.1,
           2.3, 2.2, 2.1, 2.3, 2.2, 2.1, 2.4, 2.8, 4.0, 8.0,
           9.5, 5.0, 3.0, 3.5, 5.0, 9.2, 3.5, 3.0, 2.4, 2.6,
           2.3, 2.2, 2.8, 3.2, 4.0, 3.0, 5.0, 3.5, 9.7, 5.0,
           6.5, 4.0, 5.0, 3.0, 2.4, 2.8, 2.2, 2.4, 2.1, 2.3,
           2.0, 1.9, 2.0, 1.9, 2.0, 2.1, 2.0, 2.1, 2.0, 2.1,
           2.1, 2.2, 2.1, 2.3, 2.2, 2.1, 2.8, 2.2, 2.1, 2.3,
           2.2, 2.8, 2.3, 2.2, 2.5, 2.2, 2.3, 2.2, 3.7, 2.3,
           2.1]
f_r3_lo = [1.6, 1.8, 2.5, 2.5, 3.0, 3.0, 4.0, 3.0, 4.0, 3.0,
           4.0, 2.5, 2.0, 2.0, 1.7, 1.6, 1.8, 1.65, 1.6, 1.7,
           1.6, 1.8, 1.65, 1.6, 1.7, 1.6, 1.65, 1.6, 1.8, 1.65,
           1.6, 1.65, 1.6, 1.7, 2.0, 1.65, 1.6, 1.65, 1.6, 1.65,
           1.6, 1.65, 1.7, 1.6, 1.65, 1.6, 1.65, 1.6, 1.65, 1.6,
           1.65, 1.6, 1.65, 1.6, 1.65, 1.6, 1.65, 1.6, 1.65, 1.6,
           1.65, 1.6, 1.65, 1.6, 1.65, 1.6, 1.7, 1.6, 1.65, 1.6,
           1.65, 1.6, 1.65, 1.6, 1.65, 1.6, 1.65, 1.6, 1.65, 1.6,
           1.55, 1.6, 1.5, 1.6, 1.55, 1.4, 1.4, 1.45, 1.4, 1.45,
           1.4, 1.45, 1.4, 1.45, 1.4, 1.45, 1.4, 1.45, 1.4, 1.45,
           1.4]
f_r3_hi = [2.5, 3.0, 6.0, 5.0, 8.0, 7.0, 9.0, 8.0, 8.5, 7.5,
           10.3, 6.0, 3.5, 4.5, 2.8, 2.4, 3.0, 2.5, 2.4, 2.6,
           2.4, 3.5, 2.5, 2.3, 2.6, 2.4, 2.5, 2.3, 3.0, 2.4,
           2.3, 2.5, 2.3, 2.6, 6.2, 2.5, 2.3, 2.4, 2.3, 2.5,
           2.3, 2.4, 2.6, 2.3, 2.4, 2.3, 2.5, 2.3, 2.4, 2.3,
           2.4, 2.3, 2.5, 2.3, 2.4, 2.3, 2.5, 2.3, 2.4, 2.3,
           2.4, 2.3, 2.5, 2.3, 2.4, 2.3, 2.6, 2.3, 2.4, 2.3,
           2.4, 2.3, 2.5, 2.3, 2.4, 2.3, 2.5, 2.3, 2.4, 2.3,
           2.2, 2.3, 2.1, 2.3, 2.2, 1.8, 1.8, 1.85, 1.8, 1.85,
           1.8, 1.85, 1.8, 1.85, 1.8, 1.85, 1.8, 1.85, 1.8, 1.85,
           1.8]

panels = [
    ("a", "25GSH/L-Arg", [(a_r1_lo, a_r1_hi), (a_r2_lo, a_r2_hi), (a_r3_lo, a_r3_hi)]),
    ("b", "25GSH/D-Arg", [(b_r1_lo, b_r1_hi), (b_r2_lo, b_r2_hi), (b_r3_lo, b_r3_hi)]),
    ("c", "38GSH/L-Arg", [(c_r1_lo, c_r1_hi), (c_r2_lo, c_r2_hi), (c_r3_lo, c_r3_hi)]),
    ("d", "38GSH/D-Arg", [(d_r1_lo, d_r1_hi), (d_r2_lo, d_r2_hi), (d_r3_lo, d_r3_hi)]),
    ("e", "102GSH/L-Arg", [(e_r1_lo, e_r1_hi), (e_r2_lo, e_r2_hi), (e_r3_lo, e_r3_hi)]),
    ("f", "102GSH/D-Arg", [(f_r1_lo, f_r1_hi), (f_r2_lo, f_r2_hi), (f_r3_lo, f_r3_hi)]),
]


def trace_frame(lo, hi, name):
    """Each column: rise from its low to its high, then fall to the next low."""
    return pd.DataFrame({"time": np.repeat(time, 2),
                         "distance": np.column_stack([lo, hi]).ravel(),
                         "replica": name})


sns.set_style("ticks")
plt.rcParams["font.family"] = ["Liberation Sans", "DejaVu Sans"]

fig = plt.figure(figsize=(6.29, 7.26), dpi=100)

col_x = [0.057, 0.536]
col_w = 0.456
row_y = [0.700, 0.379, 0.059]
row_h = 0.297
letter_x = [0.078, 0.083, 0.08, 0.09, 0.077, 0.087]
title_x = [0.51, 0.43, 0.515, 0.49, 0.525, 0.507]

for k, (letter, title, series) in enumerate(panels):
    row, col = divmod(k, 2)
    ax = fig.add_axes([col_x[col], row_y[row], col_w, row_h])

    df = pd.concat([trace_frame(lo, hi, name)
                    for name, (lo, hi) in zip(replicas, series)],
                   ignore_index=True)
    sns.lineplot(data=df, x="time", y="distance", hue="replica",
                 palette=colors, estimator=None, sort=False, linewidth=1.0,
                 legend=(letter == "b"), ax=ax)

    ax.set_xlim(-0.012, 0.51)
    ax.set_ylim(0, 13)
    ax.xaxis.set_major_locator(MultipleLocator(0.1))
    ax.xaxis.set_minor_locator(MultipleLocator(0.05))
    ax.yaxis.set_major_locator(MultipleLocator(2))
    ax.yaxis.set_minor_locator(MultipleLocator(1))
    ax.tick_params(which="both", direction="in", top=True, right=True,
                   width=1.0, colors="#222222", labelsize=10.5)
    ax.tick_params(axis="y", pad=2)
    ax.tick_params(axis="x", pad=4)
    ax.tick_params(which="major", length=4)
    ax.tick_params(which="minor", length=2)
    for sp in ax.spines.values():
        sp.set_linewidth(1.1)
        sp.set_color("#222222")

    if col == 0:
        ax.set_ylabel("Distance (nm)", fontsize=11.5, labelpad=1)
    else:
        ax.set_ylabel("")
        ax.set_yticklabels([])
    if row == 2:
        ax.set_xlabel("Time (\u03bcs)", fontsize=12, labelpad=2)
        ax.xaxis.set_major_formatter(plt.FuncFormatter(lambda v, p: f"{v:.1f}"))
    else:
        ax.set_xlabel("")
        ax.set_xticklabels([])

    ax.text(letter_x[k], 0.905, letter, transform=ax.transAxes,
            fontsize=11, fontweight="bold", ha="center", va="center")
    ax.text(title_x[k], 0.895, title, transform=ax.transAxes,
            fontsize=12.5, ha="center", va="center")

    if letter == "b":
        leg = ax.legend(loc="upper right", bbox_to_anchor=(0.993, 0.985),
                        fontsize=9.5, frameon=True, fancybox=False,
                        handlelength=2.9, handletextpad=0.3,
                        borderpad=0.25, labelspacing=0.1, borderaxespad=0.2)
        leg.get_frame().set_edgecolor("#a8a8e0")
        leg.get_frame().set_linewidth(0.8)
        for line in leg.get_lines():
            line.set_linewidth(1.3)

fig.savefig("out.png", dpi=100)
